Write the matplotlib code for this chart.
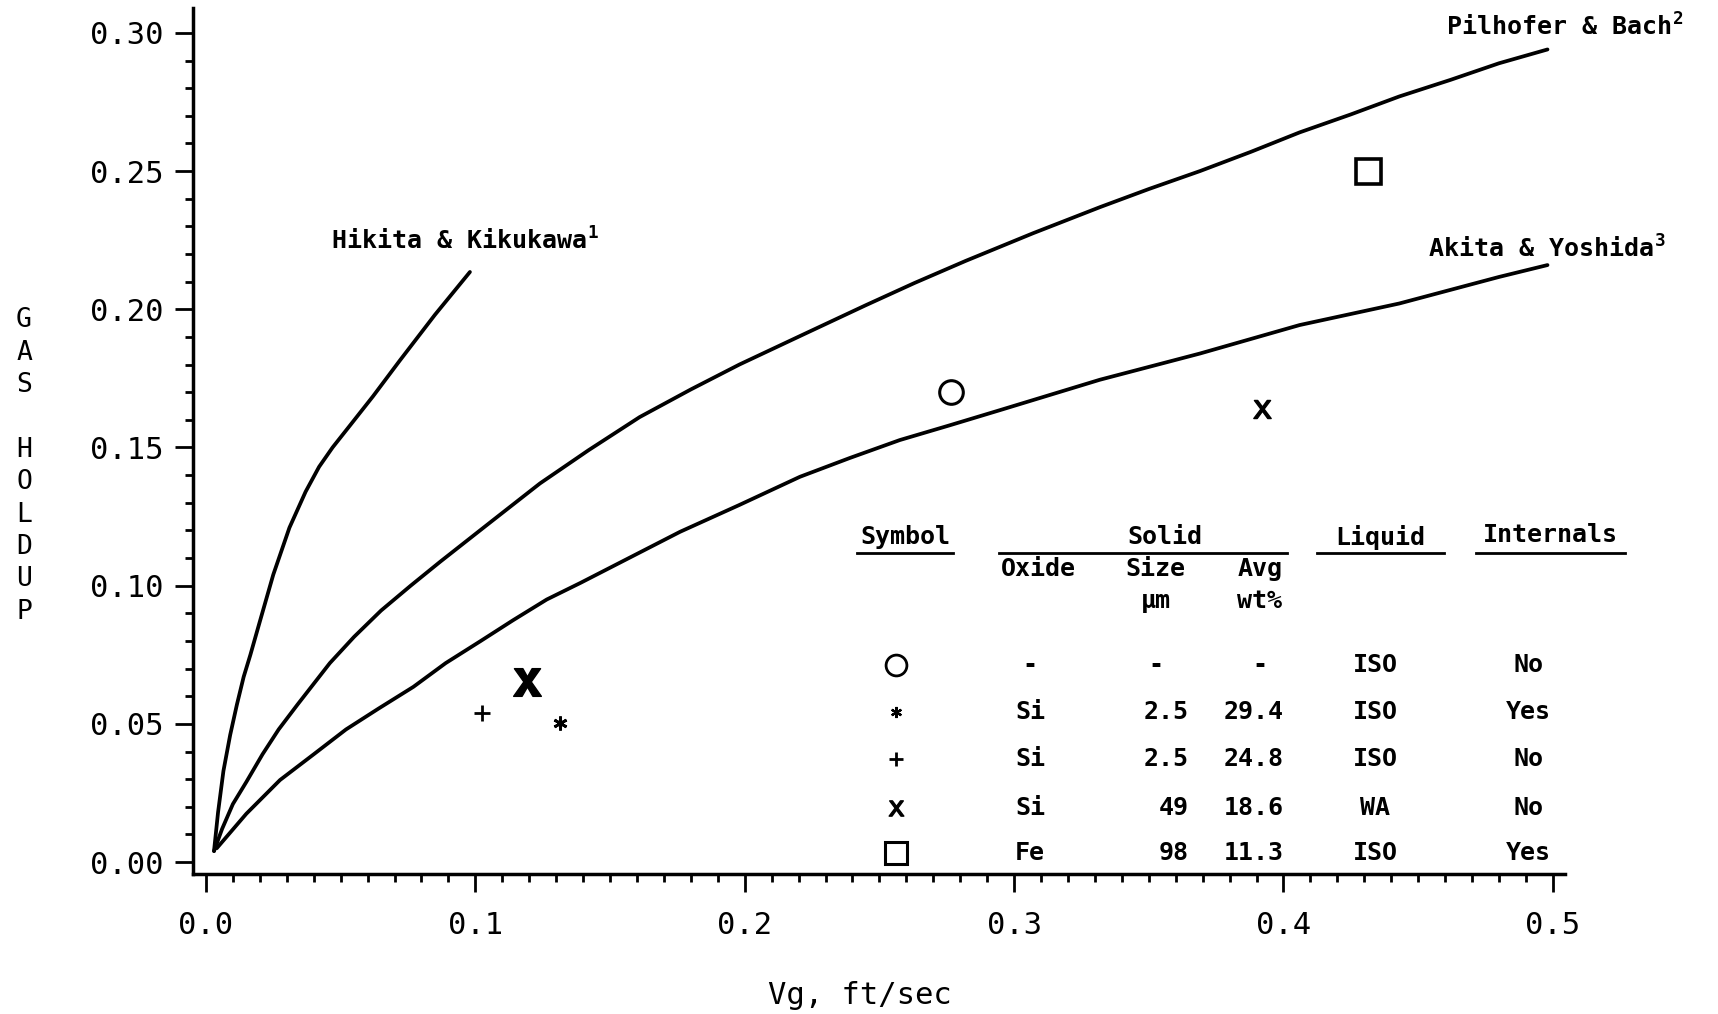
import numpy as np
import matplotlib
matplotlib.use('Agg')
import matplotlib.pyplot as plt
from matplotlib.ticker import MultipleLocator, FormatStrFormatter

# Correlation curves
hikita_x = [0.003, 0.0045, 0.0065, 0.009, 0.0115, 0.014, 0.0165, 0.020, 0.025, 0.031, 0.037, 0.042,
            0.047, 0.0535, 0.062, 0.072, 0.085, 0.098]
hikita_y = [0.004, 0.018, 0.033, 0.046, 0.057, 0.067, 0.075, 0.087, 0.104, 0.121, 0.134, 0.143,
            0.150, 0.158, 0.1685, 0.1815, 0.198, 0.2135]

pilhofer_x = [0.003, 0.006, 0.010, 0.015, 0.021, 0.027, 0.034, 0.046, 0.055, 0.065, 0.076, 0.087,
              0.105, 0.124, 0.142, 0.161, 0.180, 0.198, 0.222, 0.245, 0.263, 0.282, 0.307, 0.332,
              0.350, 0.369, 0.388, 0.406, 0.425, 0.443, 0.462, 0.480, 0.498]
pilhofer_y = [0.004, 0.012, 0.021, 0.029, 0.039, 0.048, 0.057, 0.072, 0.0815, 0.091, 0.100, 0.1087,
              0.1225, 0.137, 0.149, 0.161, 0.171, 0.180, 0.191, 0.2015, 0.2095, 0.2175, 0.2275, 0.237,
              0.2435, 0.250, 0.257, 0.264, 0.2705, 0.277, 0.283, 0.289, 0.294]

akita_x = [0.004, 0.015, 0.0275, 0.040, 0.052, 0.064, 0.077, 0.089, 0.102, 0.114, 0.1265, 0.139,
           0.151, 0.164, 0.176, 0.198, 0.2205, 0.239, 0.2576, 0.276, 0.2947, 0.3318, 0.369, 0.406,
           0.443, 0.480, 0.498]
akita_y = [0.005, 0.0175, 0.0297, 0.039, 0.048, 0.0555, 0.0634, 0.072, 0.080, 0.0875, 0.095, 0.101,
           0.107, 0.1135, 0.1195, 0.1292, 0.1394, 0.1462, 0.1527, 0.158, 0.1635, 0.1745, 0.184, 0.1943,
           0.2021, 0.2117, 0.216]

# Measured points
circle_pts = ([0.2767], [0.1701])
square_pts = ([0.4315], [0.2501])
plus_pts = ([0.1023], [0.054])
star_pts = ([0.1316], [0.0502])
x_big_pts = ([0.119], [0.0652])
x_small_pts = ([0.3919], [0.1641])

# Table contents
table_symbols = ['o', '*', '+', 'x', 's']
oxide = ['-', 'Si', 'Si', 'Si', 'Fe']
size_um = ['-', '2.5', '2.5', '49', '98']
avg_wt = ['-', '29.4', '24.8', '18.6', '11.3']
liquid = ['ISO', 'ISO', 'ISO', 'WA', 'ISO']
internals = ['No', 'Yes', 'No', 'No', 'Yes']

mono = 'DejaVu Sans Mono'
plt.rcParams['font.family'] = mono
plt.rcParams['mathtext.fontset'] = 'custom'
plt.rcParams['mathtext.rm'] = 'DejaVu Sans Mono'
plt.rcParams['mathtext.bf'] = 'DejaVu Sans Mono:bold'

fig = plt.figure(figsize=(17.18, 10.14), dpi=100)
ax = fig.add_axes([193/1718, 1 - 874/1014, (1565 - 193)/1718, (874 - 8)/1014])

lw = 2.7
for cx, cy in [(hikita_x, hikita_y), (pilhofer_x, pilhofer_y), (akita_x, akita_y)]:
    ax.plot(cx, cy, color='black', lw=lw, solid_capstyle='round', solid_joinstyle='round')

asterisk = (6, 2, 0)
ax.plot(*circle_pts, marker='o', ms=17, mfc='none', mec='black', mew=2.2, ls='none')
ax.plot(*square_pts, marker='s', ms=18, mfc='none', mec='black', mew=2.6, ls='none')
ax.plot(*plus_pts, marker='+', ms=12, mec='black', mew=2, ls='none')
ax.plot(*star_pts, marker=asterisk, ms=10, mec='black', mew=2, ls='none')
ax.plot(*x_big_pts, marker=r'$\mathbf{x}$', ms=20, mfc='black', mec='black', ls='none')
ax.plot(*x_small_pts, marker=r'$\mathrm{x}$', ms=13, mfc='black', mec='black', ls='none')

ax.set_xlim(-0.0048, 0.5045)
ax.set_ylim(-0.0043, 0.309)
for s in ['top', 'right']:
    ax.spines[s].set_visible(False)
for s in ['left', 'bottom']:
    ax.spines[s].set_linewidth(2.5)

ax.xaxis.set_major_locator(MultipleLocator(0.1))
ax.xaxis.set_minor_locator(MultipleLocator(0.01))
ax.yaxis.set_major_locator(MultipleLocator(0.05))
ax.yaxis.set_minor_locator(MultipleLocator(0.01))
ax.xaxis.set_major_formatter(FormatStrFormatter('%.1f'))
ax.yaxis.set_major_formatter(FormatStrFormatter('%.2f'))
ax.tick_params(which='major', direction='out', length=13, width=2, labelsize=22, pad=8)
ax.tick_params(axis='x', which='major', pad=14)
ax.tick_params(which='minor', direction='out', length=6, width=2)

fig.text(860/1718, 1 - 995/1014, 'Vg, ft/sec', ha='center', va='center', fontsize=22)
fig.text(24/1718, 1 - 466/1014, 'G\nA\nS\n\nH\nO\nL\nD\nU\nP', ha='center', va='center',
         fontsize=19, linespacing=1.32)

# curve labels
lab = dict(fontsize=18, fontweight='bold', va='center', ha='left', clip_on=False)
ax.text(0.0464, 0.2247, r'Hikita & Kikukawa$^{\mathbf{1}}$', **lab)
ax.text(0.4603, 0.302, r'Pilhofer & Bach$^{\mathbf{2}}$', **lab)
ax.text(0.4536, 0.2219, r'Akita & Yoshida$^{\mathbf{3}}$', **lab)

# table
tk = dict(fontsize=18, fontweight='bold', va='center', clip_on=False)
ax.text(0.2595, 0.1176, 'Symbol', ha='center', **tk)
ax.text(0.3559, 0.1176, 'Solid', ha='center', **tk)
ax.text(0.4360, 0.1176, 'Liquid', ha='center', **tk)
ax.text(0.4990, 0.1185, 'Internals', ha='center', **tk)
ax.text(0.3090, 0.1061, 'Oxide', ha='center', **tk)
ax.text(0.3526, 0.1061, 'Size', ha='center', **tk)
ax.text(0.3912, 0.1061, 'Avg', ha='center', **tk)
ax.text(0.3526, 0.0946, '\u00b5m', ha='center', **tk)
ax.text(0.3912, 0.0946, 'wt%', ha='center', **tk)

for x0, x1 in [(0.2415, 0.2774), (0.2945, 0.4014), (0.4124, 0.4596), (0.4714, 0.5267)]:
    ax.plot([x0, x1], [0.1117, 0.1117], color='black', lw=2, clip_on=False)

rows_y = [0.0713, 0.0542, 0.0372, 0.0197, 0.0034]
sym_style = {
    'o': dict(marker='o', ms=15, mfc='none', mec='black', mew=2),
    '*': dict(marker=asterisk, ms=8, mec='black', mew=1.6),
    '+': dict(marker='+', ms=10, mec='black', mew=2),
    'x': dict(marker=r'$\mathrm{x}$', ms=11, mfc='black', mec='black'),
    's': dict(marker='s', ms=16, mfc='none', mec='black', mew=2.2),
}
for i, y in enumerate(rows_y):
    ax.plot([0.2562], [y], ls='none', clip_on=False, **sym_style[table_symbols[i]])
    ax.text(0.3059, y, oxide[i], ha='center', **tk)
    if size_um[i] == '-':
        ax.text(0.3526, y, size_um[i], ha='center', **tk)
    else:
        ax.text(0.3648, y, size_um[i], ha='right', **tk)
    if avg_wt[i] == '-':
        ax.text(0.3912, y, avg_wt[i], ha='center', **tk)
    else:
        ax.text(0.4002, y, avg_wt[i], ha='right', **tk)
    ax.text(0.4340, y, liquid[i], ha='center', **tk)
    ax.text(0.4909, y, internals[i], ha='center', **tk)

fig.savefig('out.png', dpi=100, facecolor='white')
